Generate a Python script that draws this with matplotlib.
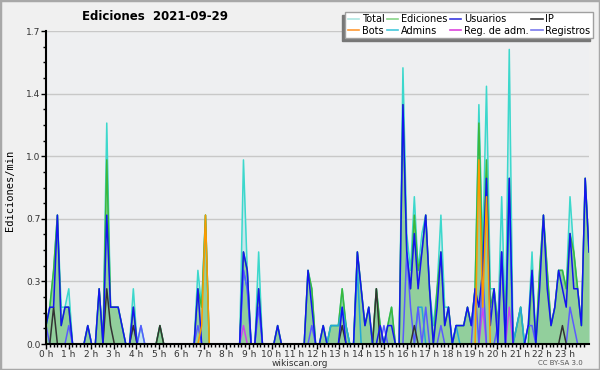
import numpy as np
import matplotlib
matplotlib.use("Agg")
import matplotlib.pyplot as plt
from matplotlib.patches import Rectangle
from matplotlib.lines import Line2D

# edits per 10-minute slot, 144 slots (00:00 .. 23:50)
total = [1, 2, 4, 7, 2, 2, 3, 0, 0, 0, 0, 1, 0, 0, 3, 0, 12, 2, 2, 2, 1, 0, 0, 3,
         0, 1, 0, 0, 0, 0, 1, 0, 0, 0, 0, 0, 0, 0, 0, 0, 4, 2, 7, 0, 0, 0, 0, 0,
         0, 0, 0, 0, 10, 4, 0, 0, 5, 0, 0, 0, 0, 1, 0, 0, 0, 0, 0, 0, 0, 4, 3, 0,
         0, 1, 0, 1, 1, 1, 3, 1, 0, 0, 5, 3, 1, 2, 0, 3, 1, 0, 1, 2, 0, 0, 15, 6,
         4, 8, 4, 6, 7, 3, 1, 3, 7, 2, 2, 0, 1, 1, 1, 2, 1, 3, 13, 5, 14, 3, 3, 1,
         8, 1, 16, 0, 1, 2, 0, 1, 5, 0, 4, 7, 4, 1, 2, 4, 4, 3, 8, 5, 3, 1, 9, 5]
ediciones = [1, 2, 4, 7, 1, 2, 2, 0, 0, 0, 0, 1, 0, 0, 3, 0, 10, 2, 2, 2, 1, 0, 0, 2,
             0, 0, 0, 0, 0, 0, 1, 0, 0, 0, 0, 0, 0, 0, 0, 0, 3, 2, 7, 0, 0, 0, 0, 0,
             0, 0, 0, 0, 5, 4, 0, 0, 3, 0, 0, 0, 0, 1, 0, 0, 0, 0, 0, 0, 0, 4, 3, 0,
             0, 1, 0, 1, 1, 1, 3, 1, 0, 0, 5, 3, 1, 2, 0, 3, 1, 0, 1, 2, 0, 0, 13, 5,
             3, 7, 4, 5, 7, 3, 0, 3, 5, 1, 2, 0, 1, 1, 1, 2, 1, 3, 12, 4, 10, 2, 3, 1,
             5, 1, 9, 0, 1, 2, 0, 0, 4, 0, 4, 7, 4, 1, 2, 4, 4, 3, 6, 5, 3, 1, 9, 5]
usuarios = [1, 2, 2, 7, 1, 2, 2, 0, 0, 0, 0, 1, 0, 0, 3, 0, 7, 2, 2, 2, 1, 0, 0, 2,
            0, 0, 0, 0, 0, 0, 0, 0, 0, 0, 0, 0, 0, 0, 0, 0, 3, 0, 0, 0, 0, 0, 0, 0,
            0, 0, 0, 0, 5, 4, 0, 0, 3, 0, 0, 0, 0, 1, 0, 0, 0, 0, 0, 0, 0, 4, 2, 0,
            0, 1, 0, 0, 0, 0, 2, 0, 0, 0, 5, 3, 1, 2, 0, 0, 1, 0, 1, 1, 0, 0, 13, 5,
            3, 6, 3, 5, 7, 3, 0, 2, 5, 1, 2, 0, 1, 1, 1, 2, 1, 3, 2, 4, 9, 1, 3, 0,
            5, 0, 9, 0, 0, 0, 0, 1, 4, 0, 3, 7, 3, 1, 2, 4, 3, 2, 6, 3, 3, 1, 9, 5]
ip = [0, 0, 2, 0, 0, 0, 0, 0, 0, 0, 0, 0, 0, 0, 0, 0, 3, 1, 0, 0, 0, 0, 0, 1,
      0, 0, 0, 0, 0, 0, 1, 0, 0, 0, 0, 0, 0, 0, 0, 0, 0, 0, 0, 0, 0, 0, 0, 0,
      0, 0, 0, 0, 0, 0, 0, 0, 0, 0, 0, 0, 0, 0, 0, 0, 0, 0, 0, 0, 0, 0, 0, 0,
      0, 0, 0, 0, 0, 0, 1, 0, 0, 0, 0, 0, 0, 0, 0, 3, 0, 0, 0, 0, 0, 0, 0, 0,
      0, 1, 0, 0, 0, 0, 0, 0, 0, 0, 0, 0, 0, 0, 0, 0, 0, 0, 0, 0, 0, 0, 0, 0,
      0, 0, 0, 0, 0, 0, 0, 0, 0, 0, 0, 0, 0, 0, 0, 0, 1, 0, 0, 0, 0, 0, 0, 0]
bots = [0, 0, 0, 0, 0, 0, 0, 0, 0, 0, 0, 0, 0, 0, 0, 0, 0, 0, 0, 0, 0, 0, 0, 0,
        0, 0, 0, 0, 0, 0, 0, 0, 0, 0, 0, 0, 0, 0, 0, 0, 0, 1, 7, 0, 0, 0, 0, 0,
        0, 0, 0, 0, 0, 0, 0, 0, 0, 0, 0, 0, 0, 0, 0, 0, 0, 0, 0, 0, 0, 0, 0, 0,
        0, 0, 0, 0, 0, 0, 0, 0, 0, 0, 0, 0, 0, 0, 0, 0, 0, 0, 0, 0, 0, 0, 0, 0,
        0, 0, 0, 0, 0, 0, 0, 0, 0, 0, 0, 0, 0, 0, 0, 0, 0, 0, 10, 2, 8, 0, 0, 0,
        0, 0, 0, 0, 0, 0, 0, 0, 0, 0, 0, 0, 0, 0, 0, 0, 0, 0, 0, 0, 0, 0, 0, 0]
admins = [0, 0, 0, 0, 0, 0, 0, 0, 0, 0, 0, 0, 0, 0, 0, 0, 0, 0, 0, 0, 0, 0, 0, 0,
          0, 0, 0, 0, 0, 0, 0, 0, 0, 0, 0, 0, 0, 0, 0, 0, 0, 0, 0, 0, 0, 0, 0, 0,
          0, 0, 0, 0, 4, 3, 0, 0, 0, 0, 0, 0, 0, 0, 0, 0, 0, 0, 0, 0, 0, 0, 0, 0,
          0, 0, 0, 1, 1, 1, 2, 1, 0, 0, 4, 0, 0, 0, 0, 0, 0, 0, 0, 0, 0, 0, 0, 0,
          0, 0, 2, 2, 0, 0, 0, 0, 0, 0, 0, 0, 1, 0, 0, 0, 0, 0, 0, 0, 0, 0, 0, 0,
          0, 0, 8, 0, 1, 2, 0, 0, 0, 0, 0, 0, 0, 0, 0, 0, 0, 0, 0, 0, 0, 0, 0, 0]
reg_adm = [0, 0, 0, 0, 0, 0, 0, 0, 0, 0, 0, 0, 0, 0, 0, 0, 0, 0, 0, 0, 0, 0, 0, 0,
           0, 0, 0, 0, 0, 0, 0, 0, 0, 0, 0, 0, 0, 0, 0, 0, 0, 0, 0, 0, 0, 0, 0, 0,
           0, 0, 0, 0, 1, 0, 0, 0, 0, 0, 0, 0, 0, 0, 0, 0, 0, 0, 0, 0, 0, 0, 0, 0,
           0, 0, 0, 0, 0, 0, 0, 0, 0, 0, 0, 0, 0, 0, 0, 0, 0, 0, 0, 0, 0, 0, 0, 0,
           0, 0, 0, 0, 0, 0, 0, 0, 0, 0, 0, 0, 0, 0, 0, 0, 0, 0, 0, 2, 0, 0, 0, 0,
           0, 0, 2, 0, 0, 0, 0, 0, 0, 0, 0, 0, 0, 0, 0, 0, 0, 0, 0, 0, 0, 0, 0, 0]
registros = [1, 0, 0, 0, 0, 0, 1, 0, 0, 0, 0, 0, 0, 0, 0, 0, 0, 0, 0, 0, 0, 0, 0, 1,
             0, 1, 0, 0, 0, 0, 0, 0, 0, 0, 0, 0, 0, 0, 0, 0, 1, 0, 0, 0, 0, 0, 0, 0,
             0, 0, 0, 0, 4, 3, 0, 0, 2, 0, 0, 0, 0, 0, 0, 0, 0, 0, 0, 0, 0, 0, 1, 0,
             0, 0, 0, 0, 0, 0, 0, 0, 0, 0, 0, 0, 0, 0, 0, 0, 0, 1, 0, 0, 0, 0, 0, 5,
             2, 0, 2, 0, 2, 0, 0, 0, 1, 0, 0, 0, 0, 0, 0, 0, 0, 3, 0, 4, 0, 0, 0, 1,
             5, 0, 0, 0, 0, 0, 0, 1, 1, 0, 0, 0, 0, 0, 0, 0, 0, 0, 2, 1, 0, 0, 0, 0]

hour_labels = [f"{h} h" for h in range(24)]
legend_names = ["Total", "Bots", "Ediciones", "Admins",
                "Usuarios", "Reg. de adm.", "IP", "Registros"]
legend_colors = ["#aee6e2", "#ff9933", "#88d488", "#44c8dc",
                 "#3a3ae0", "#dd44dd", "#333333", "#7a7aee"]


def per_min(v):
    return np.array(v) / 10.0


x = np.arange(len(total))

fig = plt.figure(figsize=(6, 3.7), dpi=100, facecolor="#f0f0f0")
ax = fig.add_axes([46 / 600, 26 / 370, 543 / 600, 313 / 370])
ax.set_facecolor("#eeeff1")

ax.fill_between(x, per_min(total), color="#c8e6ec", lw=0, zorder=2)
ax.fill_between(x, per_min(ediciones), color="#92cf9c", lw=0, zorder=2)
ax.plot(x, per_min(total), color="#3cd8cc", lw=1.1, zorder=3)
ax.plot(x, per_min(ediciones), color="#3cb83c", lw=1.1, zorder=3)
ax.plot(x, per_min(admins), color="#22a8d8", lw=1.1, zorder=3)
ax.plot(x, per_min(reg_adm), color="#cc44ee", lw=1.1, zorder=3)
ax.plot(x, per_min(registros), color="#5a5aff", lw=1.1, zorder=3)
ax.plot(x, per_min(ip), color="#333333", lw=1.1, zorder=3)
ax.plot(x, per_min(usuarios), color="#1414f0", lw=1.1, zorder=3)
ax.plot(x, per_min(bots), color="#ff9900", lw=1.1, zorder=3)

ax.set_xlim(0, len(total) - 1)
ax.set_ylim(0, 1.7)
slot = 5.94 / 6  # hour ticks are spaced a bit tighter than data slots
ax.set_xticks(np.arange(24) * 6 * slot)
ax.set_xticklabels(hour_labels)
ax.set_xticks(np.arange(0, 144) * slot, minor=True)
yt = np.linspace(0, 1.7, 6)
ax.set_yticks(yt)
ax.set_yticklabels([f"{v:.1f}" for v in yt])
ax.set_yticks(np.arange(0, 1.71, 0.085), minor=True)
ax.tick_params(which="major", labelsize=6.5, labelcolor="#333333",
               length=3.5, width=1, direction="out", pad=0.5)
ax.tick_params(which="minor", length=2.5, width=1, direction="out")
ax.yaxis.grid(True, color="#c8c8c8", lw=1)
ax.set_axisbelow(True)
for s in ["top", "right"]:
    ax.spines[s].set_visible(False)
for s in ["left", "bottom"]:
    ax.spines[s].set_linewidth(1.5)
    ax.spines[s].set_zorder(5)

handles = [Line2D([], [], color=c, lw=1.2) for c in legend_colors]
leg = fig.legend(handles, legend_names, loc="upper right",
                 bbox_to_anchor=(593 / 600, 1 - 12 / 370), ncol=4, fontsize=7,
                 frameon=True, fancybox=False, edgecolor="#a0a0a0",
                 framealpha=1, borderpad=0.25, labelspacing=0.12,
                 handlelength=1.2, handletextpad=0.3, columnspacing=0.2,
                 borderaxespad=0)
leg.set_zorder(6)

fig.patches.append(Rectangle((0, 0), 1, 1, transform=fig.transFigure,
                             fill=False, edgecolor="#a8a8a8", lw=2.5,
                             zorder=7))

fig.text(155 / 600, 1 - 17 / 370, "Ediciones  2021-09-29", ha="center",
         va="center", fontsize=8.5, fontweight="bold")
fig.text(10 / 600, 1 - 190 / 370, "Ediciones/min", rotation=90,
         family="DejaVu Sans Mono", fontsize=7.5, ha="center", va="center")
fig.text(0.5, 1 - 363 / 370, "wikiscan.org", ha="center", va="center",
         fontsize=6.5, color="#333333")
fig.text(560 / 600, 1 - 363 / 370, "CC BY-SA 3.0", ha="center", va="center",
         fontsize=5, color="#555555")

# grey drop shadow to the lower left of the legend box
fig.canvas.draw()
bb = leg.get_window_extent().transformed(fig.transFigure.inverted())
fig.patches.append(Rectangle((bb.x0 - 3 / 600, bb.y0 - 3 / 370),
                             bb.width, bb.height, transform=fig.transFigure,
                             color="#777777", zorder=5))

fig.savefig("out.png", dpi=100, facecolor=fig.get_facecolor())
